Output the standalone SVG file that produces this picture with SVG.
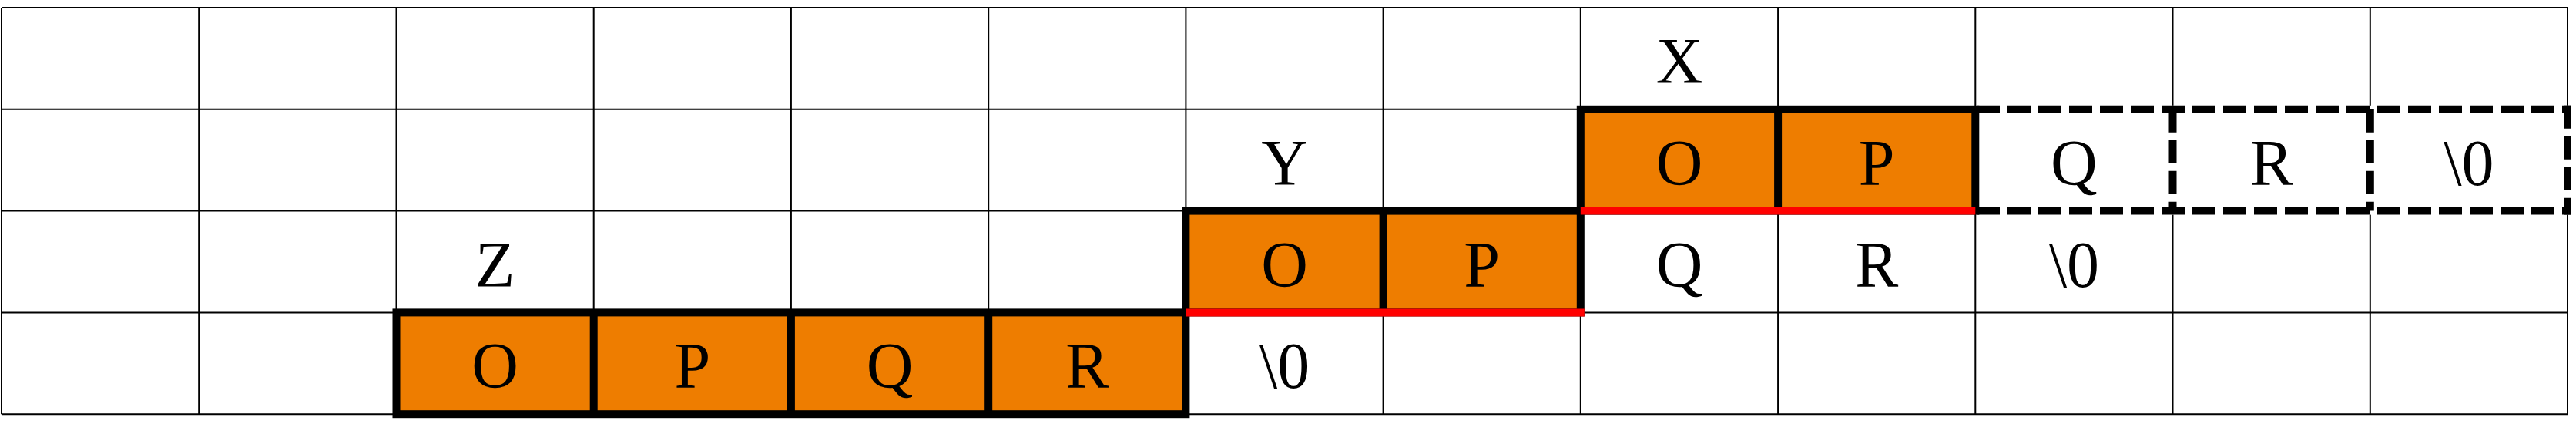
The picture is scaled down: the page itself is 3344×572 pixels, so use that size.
<svg xmlns="http://www.w3.org/2000/svg" width="3344" height="572" viewBox="0 0 3344 572">
<style>
.grid{stroke:#000;stroke-width:2;fill:none}
.cell{fill:#EE7D00}
.thick{stroke:#000;stroke-width:10;fill:none}
.red{stroke:#FF0000;stroke-width:10;fill:none}
.dash{stroke:#000;stroke-width:10;fill:none;stroke-dasharray:30 10}
.t{font-family:"Liberation Serif","Times New Roman",serif;font-size:84px;fill:#000;text-anchor:middle}
</style>
<rect x="0" y="0" width="3344" height="572" fill="#fff"/>
<g id="grid" class="grid">
<path d="M2 10V537.2M258.2 10V537.2M514.5 10V537.2M770.7 10V537.2M1026.9 10V537.2M1283.2 10V537.2M1539.4 10V537.2M1795.6 10V537.2M2051.8 10V537.2M2308.1 10V537.2M2564.3 10V537.2M2820.5 10V537.2M3076.8 10V537.2M3333 10V537.2"/>
<path d="M2 10H3333M2 141.8H3333M2 273.6H3333M2 405.4H3333M2 537.2H3333"/>
</g>
<g id="block-z">
<rect class="cell" x="514.5" y="405.4" width="1024.9" height="131.8"/>
<rect class="thick" x="514.5" y="405.4" width="1024.9" height="131.8"/>
<path class="thick" d="M770.7 405.4V537.2M1026.9 405.4V537.2M1283.2 405.4V537.2"/>
<text class="t" x="642.6" y="503.4">O</text>
<text class="t" x="898.8" y="503.4">P</text>
<text class="t" x="1155.1" y="503.4">Q</text>
<text class="t" x="1411.3" y="503.4">R</text>
<text class="t" x="1667.5" y="503.4">\0</text>
<text class="t" x="642.6" y="371.6">Z</text>
</g>
<g id="block-y">
<rect class="cell" x="1539.4" y="273.6" width="512.4" height="131.8"/>
<rect class="thick" x="1539.4" y="273.6" width="512.4" height="131.8"/>
<path class="thick" d="M1795.6 273.6V405.4"/>
<text class="t" x="1667.5" y="371.6">O</text>
<text class="t" x="1923.7" y="371.6">P</text>
<text class="t" x="2180" y="371.6">Q</text>
<text class="t" x="2436.2" y="371.6">R</text>
<text class="t" x="2692.4" y="371.6">\0</text>
<text class="t" x="1667.5" y="239.8">Y</text>
</g>
<g id="block-x">
<rect x="2569" y="136.8" width="770" height="141.8" fill="#fff"/>
<rect class="cell" x="2051.8" y="141.8" width="512.5" height="131.8"/>
<rect class="thick" x="2051.8" y="141.8" width="512.5" height="131.8"/>
<path class="thick" d="M2308.1 141.8V273.6"/>
<path class="dash" d="M2566 141.8H3338M2566 273.6H3338"/>
<path class="dash" d="M2820.5 141.8V273.6M3076.8 141.8V273.6M3333 136.8V278.6"/>
<text class="t" x="2180" y="239.8">O</text>
<text class="t" x="2436.2" y="239.8">P</text>
<text class="t" x="2692.4" y="239.8">Q</text>
<text class="t" x="2948.7" y="239.8">R</text>
<text class="t" x="3204.9" y="239.8">\0</text>
<text class="t" x="2180" y="108">X</text>
</g>
<g id="connectors">
<path class="red" d="M1539.4 405.4H2056.8"/>
<path class="red" d="M2051.8 273.6H2564.3"/>
</g>
</svg>
